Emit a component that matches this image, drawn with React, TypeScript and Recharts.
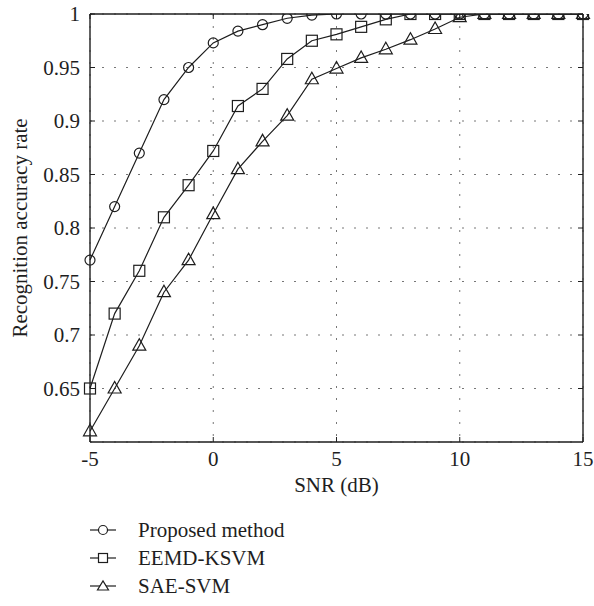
import React from 'react';
import { LineChart, Line, XAxis, YAxis, CartesianGrid, Label } from 'recharts';

// SNR values (dB)
const snr = [-5, -4, -3, -2, -1, 0, 1, 2, 3, 4, 5, 6, 7, 8, 9, 10, 11, 12, 13, 14, 15];

const proposed = [0.77, 0.82, 0.87, 0.92, 0.95, 0.973, 0.984, 0.99, 0.996, 0.999, 1, 1, 1, 1, 1, 1, 1, 1, 1, 1, 1];
const eemdKsvm = [0.65, 0.72, 0.76, 0.81, 0.84, 0.872, 0.914, 0.93, 0.958, 0.975, 0.981, 0.988, 0.995, 1, 1, 1, 1, 1, 1, 1, 1];
const saeSvm = [0.61, 0.65, 0.69, 0.74, 0.77, 0.813, 0.855, 0.881, 0.905, 0.939, 0.949, 0.959, 0.967, 0.976, 0.986, 0.997, 1, 1, 1, 1, 1];

const xTicks = [-5, 0, 5, 10, 15];
const yTicks = [0.65, 0.7, 0.75, 0.8, 0.85, 0.9, 0.95, 1];

const data = snr.map((s, i) => ({ snr: s, proposed: proposed[i], eemd: eemdKsvm[i], sae: saeSvm[i] }));

const INK = '#1e1e1e';
const FONT = 'Liberation Serif, DejaVu Serif, serif';
const FS = 21;

const CircleDot = (props: any) => {
  const { cx, cy, index } = props;
  return <circle key={`c-${index}`} cx={cx} cy={cy} r={5} fill="none" stroke={INK} strokeWidth={1.2} />;
};

const SquareDot = (props: any) => {
  const { cx, cy, index } = props;
  return <rect key={`s-${index}`} x={cx - 5.5} y={cy - 5.5} width={11} height={11} fill="none" stroke={INK} strokeWidth={1.2} />;
};

const TriangleDot = (props: any) => {
  const { cx, cy, index } = props;
  const pts = `${cx - 6.5},${cy + 4.5} ${cx + 6.5},${cy + 4.5} ${cx},${cy - 7}`;
  return <polygon key={`t-${index}`} points={pts} fill="none" stroke={INK} strokeWidth={1.2} />;
};

const YTitle = ({ viewBox }: any) => {
  const cy = viewBox.y + viewBox.height / 2;
  return (
    <text
      x={0}
      y={0}
      transform={`translate(27, ${cy}) rotate(-90)`}
      textAnchor="middle"
      fill={INK}
      fontFamily={FONT}
      fontSize={FS}
    >
      Recognition accuracy rate
    </text>
  );
};

const XTitle = ({ viewBox }: any) => (
  <text x={viewBox.x + viewBox.width / 2} y={viewBox.y + 50} textAnchor="middle" fill={INK} fontFamily={FONT} fontSize={FS}>
    SNR (dB)
  </text>
);

const legendItems = [
  { name: 'Proposed method', shape: 'circle' },
  { name: 'EEMD-KSVM', shape: 'square' },
  { name: 'SAE-SVM', shape: 'triangle' },
];

const LegendIcon = ({ shape }: { shape: string }) => (
  <svg width={26} height={16} style={{ display: 'block' }}>
    <line x1={0} y1={8} x2={26} y2={8} stroke={INK} strokeWidth={1.2} />
    {shape === 'circle' && <circle cx={13} cy={8} r={4.5} fill="white" stroke={INK} strokeWidth={1.2} />}
    {shape === 'square' && <rect x={8.5} y={3.5} width={9} height={9} fill="white" stroke={INK} strokeWidth={1.2} />}
    {shape === 'triangle' && <polygon points="7.5,12 18.5,12 13,3" fill="white" stroke={INK} strokeWidth={1.2} />}
  </svg>
);

const axisLine = { stroke: INK, strokeWidth: 1.4 };
const tickLine = { stroke: INK, strokeWidth: 1 };
const noLabel = () => '';

export default function App() {
  return (
    <div style={{ position: 'absolute', left: 0, top: 0, width: 594, height: 606, background: 'white', fontFamily: FONT }}>
      <LineChart width={594} height={606} data={data} margin={{ top: 13, right: 10, bottom: 0, left: 0 }} style={{ fontFamily: FONT }}>
        <CartesianGrid stroke="#777" strokeDasharray="2 10" />
        <XAxis
          dataKey="snr"
          type="number"
          domain={[-5, 15]}
          ticks={xTicks}
          height={164}
          tickLine={tickLine}
          tickSize={-5}
          tickMargin={14}
          axisLine={axisLine}
          tick={{ fill: INK, fontSize: FS, fontFamily: FONT }}
        >
          <Label content={<XTitle />} />
        </XAxis>
        <XAxis
          xAxisId="top"
          orientation="top"
          dataKey="snr"
          type="number"
          domain={[-5, 15]}
          ticks={xTicks}
          height={1}
          tickLine={tickLine}
          tickSize={-5}
          axisLine={axisLine}
          tickFormatter={noLabel}
        />
        <YAxis
          type="number"
          domain={[0.6, 1]}
          ticks={yTicks}
          width={90}
          tickLine={tickLine}
          tickSize={-5}
          tickMargin={15}
          allowDataOverflow
          axisLine={axisLine}
          tick={{ fill: INK, fontSize: FS, fontFamily: FONT }}
          tickFormatter={(v: number) => String(v)}
        >
          <Label content={<YTitle />} />
        </YAxis>
        <YAxis
          yAxisId="right"
          orientation="right"
          type="number"
          domain={[0.6, 1]}
          ticks={yTicks}
          width={1}
          tickLine={tickLine}
          tickSize={-5}
          allowDataOverflow
          axisLine={axisLine}
          tickFormatter={noLabel}
        />
        <Line dataKey="proposed" name="Proposed method" stroke={INK} strokeWidth={1.2} dot={CircleDot} activeDot={false} isAnimationActive={false} />
        <Line dataKey="eemd" name="EEMD-KSVM" stroke={INK} strokeWidth={1.2} dot={SquareDot} activeDot={false} isAnimationActive={false} />
        <Line dataKey="sae" name="SAE-SVM" stroke={INK} strokeWidth={1.2} dot={TriangleDot} activeDot={false} isAnimationActive={false} />
      </LineChart>
      <div style={{ position: 'absolute', left: 90, top: 516, fontFamily: FONT, fontSize: FS, color: INK }}>
        {legendItems.map((item) => (
          <div key={item.name} style={{ display: 'flex', alignItems: 'center', height: 28 }}>
            <LegendIcon shape={item.shape} />
            <span style={{ marginLeft: 22, lineHeight: '28px' }}>{item.name}</span>
          </div>
        ))}
      </div>
    </div>
  );
}
